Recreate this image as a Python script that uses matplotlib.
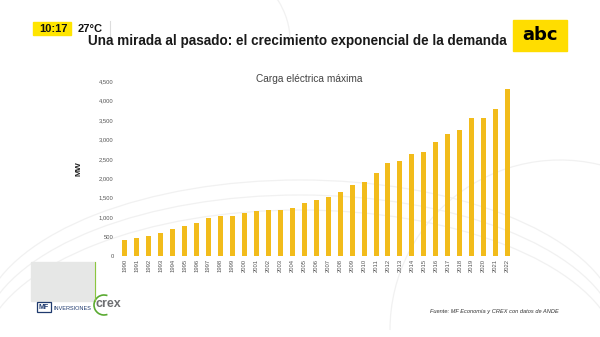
import matplotlib
matplotlib.use("Agg")
import matplotlib.pyplot as plt
from matplotlib.patches import Rectangle, Arc
from matplotlib.ticker import FuncFormatter

# ---------------- Data ----------------
years = [str(y) for y in range(1990, 2023)]
peak_mw = [405, 474, 526, 603, 698, 784, 853, 966, 1017, 1034,
           1112, 1147, 1190, 1185, 1241, 1353, 1448, 1517, 1650, 1815,
           1897, 2138, 2388, 2431, 2629, 2672, 2931, 3147, 3233, 3560,
           3560, 3784, 4284]
y_ticks = list(range(0, 5000, 500))

title = "Una mirada al pasado: el crecimiento exponencial de la demanda"
chart_title = "Carga eléctrica máxima"
source = "Fuente: MF Economía y CREX con datos de ANDE"

BAR = "#F2BC1B"
GREY = "#555555"

plt.rcParams['font.family'] = ['Liberation Sans', 'DejaVu Sans']

fig = plt.figure(figsize=(6, 3.37), dpi=100)
fig.patch.set_facecolor("white")

# background layer in pixel coords (y down)
bg = fig.add_axes([0, 0, 1, 1])
bg.set_xlim(0, 600)
bg.set_ylim(337, 0)
bg.axis("off")
# very faint decorative arcs
for cx, cy, w, h, t1, t2 in [(300, 330, 640, 300, 185, 355),
                             (300, 345, 640, 300, 185, 355),
                             (300, 360, 640, 300, 185, 355),
                             (560, 330, 340, 340, 180, 290),
                             (40, 40, 500, 260, 300, 360)]:
    bg.add_patch(Arc((cx, cy), w, h, theta1=t1, theta2=t2, color="#f1f1f1", lw=0.9))

# header
bg.add_patch(Rectangle((33, 22), 38, 13, color="#FFE500"))
bg.text(39, 28.5, "10:17", fontsize=8, fontweight="bold", va="center", color="#111111")
bg.text(78, 28.5, "27°C", fontsize=8, fontweight="bold", va="center", color="#111111")
bg.plot([110, 110], [21, 36], color="#dddddd", lw=0.8)
bg.text(88, 41, title, fontsize=9.75, fontweight="bold", va="center", color="#1a1a1a")
bg.add_patch(Rectangle((513, 20), 54, 31, color="#FFDD00"))
bg.text(540, 35.5, "abc", fontsize=13, fontweight="heavy", ha="center", va="center",
        color="black", family="DejaVu Sans")

# bottom left logo block
bg.add_patch(Rectangle((31, 262), 64, 39, color="#e6e7e6"))
bg.plot([95, 95], [262, 301], color="#8cc63f", lw=0.8)
bg.add_patch(Rectangle((37, 302), 14, 10, facecolor="white", edgecolor="#1f3a6e", lw=0.9))
bg.text(44, 307.5, "MF", fontsize=5, fontweight="bold", ha="center", va="center", color="#1f3a6e")
bg.text(53, 308, "INVERSIONES", fontsize=4, ha="left", va="center", color="#1f3a6e")
bg.add_patch(Arc((104, 305), 20, 20, theta1=70, theta2=290, color="#5aaa32", lw=1.2))
bg.text(95, 304, "crex", fontsize=9, fontweight="bold", ha="left", va="center", color="#6d6e71")

# source
bg.text(559, 311.5, source, fontsize=4.1, style="italic", ha="right", va="center",
        color="#333333")

# main chart
ax = fig.add_axes([0.194, 0.2404, 0.666, 0.519])
ax.set_facecolor("none")
x = list(range(len(years)))
ax.bar(x, peak_mw, width=0.42, color=BAR, zorder=3)
ax.set_xlim(-0.7, 32.7)
ax.set_ylim(0, 4500)
ax.set_yticks(y_ticks)
ax.yaxis.set_major_formatter(FuncFormatter(lambda v, p: f"{int(v):,}"))
ax.set_xticks(x)
ax.set_xticklabels(years, rotation=90)
ax.tick_params(axis="both", length=0, labelsize=4.2, labelcolor=GREY, pad=2)
for s in ax.spines.values():
    s.set_visible(False)
ax.set_ylabel("MW", fontsize=6, fontweight="bold", color="#222222", labelpad=12)

fig.text(0.515, 0.766, chart_title, fontsize=7.3, ha="center", va="center", color="#444444")

fig.savefig("out.png", dpi=100)
